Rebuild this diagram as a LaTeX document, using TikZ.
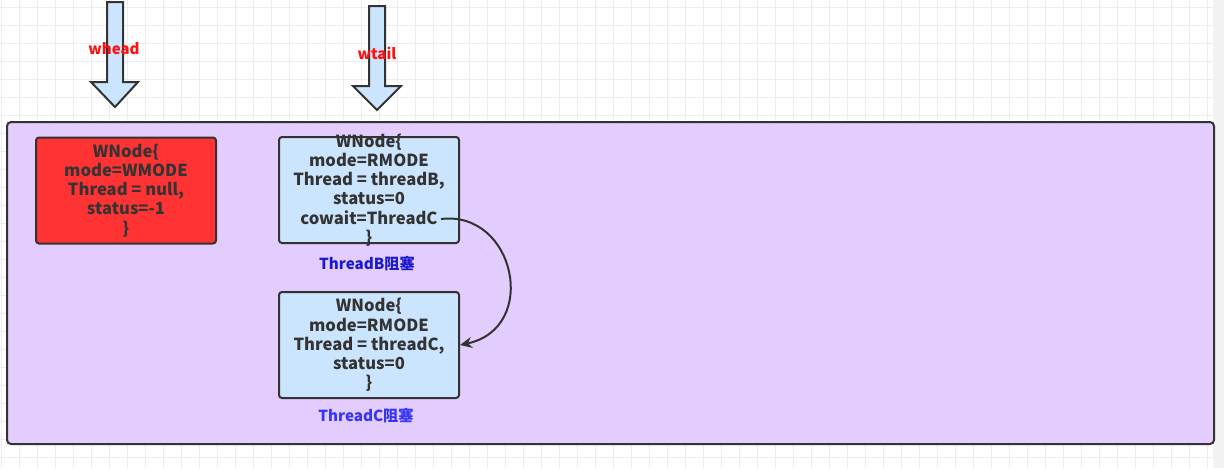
\documentclass[tikz,border=0pt]{standalone}
\usepackage{fontspec}
\setmainfont{Noto Sans CJK SC}
\usetikzlibrary{arrows.meta}
\definecolor{gridc}{HTML}{ECECEC}
\definecolor{boxpurple}{HTML}{E3CCFE}
\definecolor{redfill}{HTML}{FF3333}
\definecolor{bluefill}{HTML}{CCE5FF}
\definecolor{edge}{HTML}{333333}
\definecolor{labB}{HTML}{1A1ACC}
\definecolor{labC}{HTML}{3535F5}
\definecolor{ptr}{HTML}{FF1010}
\tikzset{
  wbox/.style={draw=edge, line width=1pt, rounded corners=1.5pt, minimum width=90pt, minimum height=53pt, inner sep=0pt},
  wtext/.style={inner sep=0pt, align=center, text=edge, font=\bfseries\fontsize{8.3}{9.6}\selectfont},
  caption/.style={font=\bfseries\fontsize{7.6}{9}\selectfont, inner sep=0pt},
  ptrlabel/.style={text=ptr, font=\bfseries\fontsize{7.5}{9}\selectfont, inner sep=0pt},
  blockarrow/.style={draw=edge, fill=bluefill, line width=1pt, line join=miter},
  link/.style={draw=edge, line width=1pt, -{Stealth[length=6pt,width=5.5pt]}}
}
\begin{document}
\begin{tikzpicture}[x=0.5pt,y=-0.5pt]
\useasboundingbox (0,0) rectangle (1224,468);
\fill[white] (0,0) rectangle (1224,468);
% grid
\foreach \gx in {1,19,...,1213} \draw[gridc, line width=0.4pt] (\gx,0) -- (\gx,468);
\foreach \gy in {7,25,...,468} \draw[gridc, line width=0.4pt] (0,\gy) -- (1213,\gy);
\fill[gray!10] (1213,0) rectangle (1224,468);
% container
\draw[draw=edge, fill=boxpurple, line width=1pt, rounded corners=2pt] (7,122) rectangle (1214,444);
% pointer arrows
\draw[blockarrow] (107,2) -- (123,2) -- (123,82) -- (138,82) -- (115,107) -- (91,82) -- (107,82) -- cycle;
\node[ptrlabel] (whead) at (114,49) {whead};
\draw[blockarrow] (369,6) -- (385,6) -- (385,86) -- (401,86) -- (377,110) -- (353,86) -- (369,86) -- cycle;
\node[ptrlabel] (wtail) at (377,53) {wtail};
% nodes
\node[wbox, fill=redfill] (A) at (126,190.5) {};
\node[wtext] (Atext) at (A.center) {WNode\{\\mode=WMODE\\Thread = null,\\status=-1\\\}};
\node[wbox, fill=bluefill] (B) at (369,190) {};
\node[wtext] (Btext) at (B.center) {WNode\{\\mode=RMODE\\Thread = threadB,\\status=0\\cowait=ThreadC\\\}};
\node[wbox, fill=bluefill] (C) at (369,345) {};
\node[wtext] (Ctext) at (C.center) {WNode\{\\mode=RMODE\\Thread = threadC,\\status=0\\\}};
\node[caption, text=labB] (capB) at (367,264) {ThreadB阻塞};
\node[caption, text=labC] (capC) at (366,416) {ThreadC阻塞};
% cowait link
\coordinate (cw) at (441,219);
\draw[link] (cw) .. controls (515,210) and (540,328) .. (C.east);
\end{tikzpicture}
\end{document}
